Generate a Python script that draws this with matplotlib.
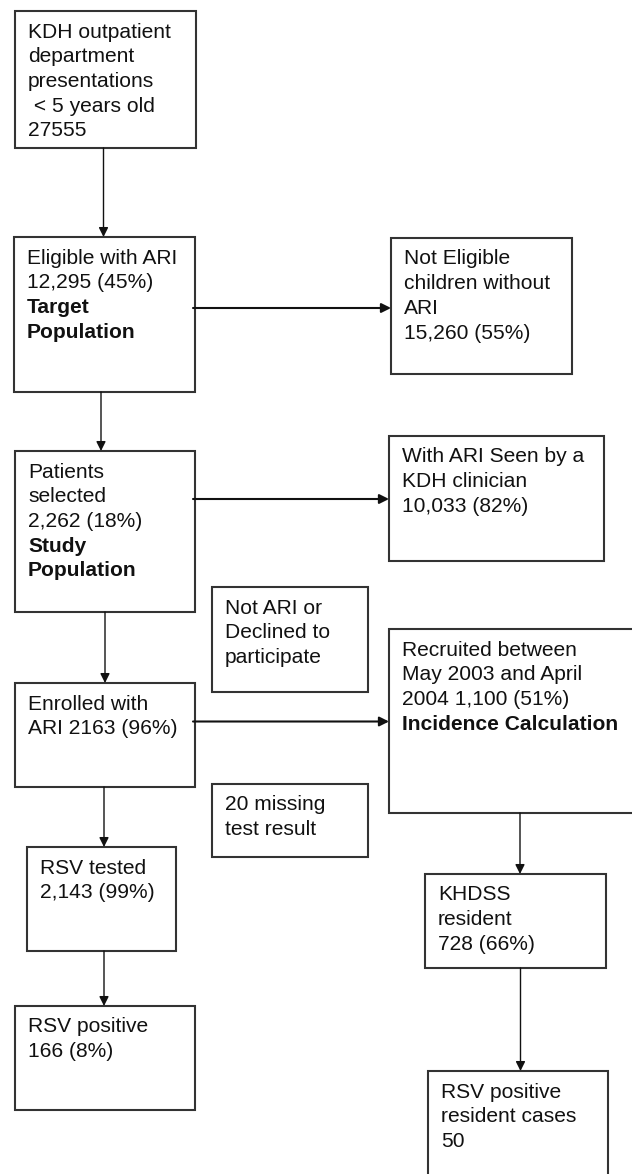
import matplotlib.pyplot as plt
from matplotlib.patches import Rectangle

plt.rcParams['font.family'] = ['Liberation Sans', 'DejaVu Sans']

# box texts, one list of lines per box
box_lines = [
    ['KDH outpatient', 'department', 'presentations', ' < 5 years old', '27555'],
    ['Eligible with ARI', '12,295 (45%)', 'Target', 'Population'],
    ['Not Eligible', 'children without', 'ARI', '15,260 (55%)'],
    ['Patients', 'selected', '2,262 (18%)', 'Study', 'Population'],
    ['With ARI Seen by a', 'KDH clinician', '10,033 (82%)'],
    ['Not ARI or', 'Declined to', 'participate'],
    ['Enrolled with', 'ARI 2163 (96%)'],
    ['Recruited between', 'May 2003 and April', '2004 1,100 (51%)', 'Incidence Calculation'],
    ['20 missing', 'test result'],
    ['RSV tested', '2,143 (99%)'],
    ['RSV positive', '166 (8%)'],
    ['KHDSS', 'resident', '728 (66%)'],
    ['RSV positive', 'resident cases', '50'],
]
# which lines are bold in each box
bold_lines = {1: [2, 3], 3: [3, 4], 7: [3]}

# layout in pixels: left, top, right, bottom
box_pos = [
    (15, 11, 196, 148),
    (14, 237, 195, 392),
    (391, 238, 572, 374),
    (15, 451, 195, 612),
    (389, 436, 604, 561),
    (212, 587, 368, 692),
    (15, 683, 195, 787),
    (389, 629, 645, 813),
    (212, 784, 368, 857),
    (27, 847, 176, 951),
    (15, 1006, 195, 1110),
    (425, 874, 606, 968),
    (428, 1071, 608, 1185),
]

# arrows: (from box, to box, 'v' at x / 'h' at y)
arrows = [
    (0, 1, 'v', 103.5),
    (1, 2, 'h', 308),
    (1, 3, 'v', 101),
    (3, 4, 'h', 499),
    (3, 6, 'v', 105),
    (6, 7, 'h', 721.5),
    (6, 9, 'v', 104),
    (9, 10, 'v', 104),
    (7, 11, 'v', 520),
    (11, 12, 'v', 520.5),
]

fig = plt.figure(figsize=(6.32, 11.74), dpi=100)
ax = fig.add_axes([0, 0, 1, 1])
ax.set_xlim(0, 632)
ax.set_ylim(1174, 0)
ax.axis('off')

line_step = 24.7
for i, (l, t, r, b) in enumerate(box_pos):
    ax.add_patch(Rectangle((l, t), r - l, b - t, facecolor='white',
                           edgecolor='#333333', linewidth=1.5, zorder=2))
    for j, txt in enumerate(box_lines[i]):
        weight = 'bold' if j in bold_lines.get(i, []) else 'normal'
        ax.text(l + 13, t + 26.5 + j * line_step, txt, fontsize=15.1,
                fontweight=weight, color='#111111', ha='left', va='baseline', zorder=3)

for src, dst, kind, pos in arrows:
    sl, st, sr, sb = box_pos[src]
    dl, dt, dr, db = box_pos[dst]
    if kind == 'v':
        start, end = (pos, sb), (pos, dt)
        lw = 1.0
    else:
        start, end = (sr - 2, pos), (dl, pos)
        lw = 1.5
    ax.annotate('', xy=end, xytext=start, zorder=4,
                arrowprops=dict(arrowstyle='-|>', color='#111111', lw=lw,
                                mutation_scale=14, shrinkA=0, shrinkB=0))

fig.savefig('out.png', dpi=100)
